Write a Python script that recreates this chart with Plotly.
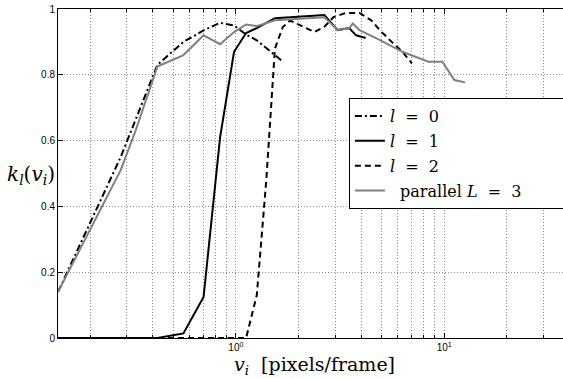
import math
import plotly.graph_objects as go

# ---- data ----
l0_x = [0.14, 0.28, 0.42, 0.56, 0.70, 0.84, 0.98, 1.12, 1.26, 1.40, 1.54, 1.68]
l0_y = [0.14, 0.55, 0.83, 0.90, 0.935, 0.958, 0.95, 0.922, 0.905, 0.88, 0.86, 0.84]

l1_x = [0.14, 0.42, 0.56, 0.70, 0.84, 0.98, 1.12, 1.26, 1.54, 1.96, 2.66, 3.08, 3.50, 3.78, 4.20]
l1_y = [0.0, 0.0, 0.014, 0.125, 0.61, 0.87, 0.927, 0.942, 0.972, 0.977, 0.982, 0.936, 0.942, 0.92, 0.912]

l2_x = [0.14, 1.12, 1.26, 1.40, 1.54, 1.68, 1.82, 2.10, 2.38, 2.66, 2.94, 3.36, 3.92, 4.48, 4.90, 5.60, 6.30, 7.00]
l2_y = [0.0, 0.0, 0.13, 0.48, 0.88, 0.945, 0.965, 0.945, 0.93, 0.946, 0.975, 0.988, 0.988, 0.965, 0.936, 0.90, 0.87, 0.835]

par_x = [0.14, 0.28, 0.33, 0.42, 0.56, 0.70, 0.84, 0.98, 1.12, 1.26, 1.54, 1.96, 2.24, 2.66,
         3.08, 3.50, 3.64, 3.92, 4.90, 6.30, 8.40, 9.80, 11.2, 12.6]
par_y = [0.14, 0.51, 0.63, 0.825, 0.86, 0.92, 0.893, 0.93, 0.953, 0.948, 0.966, 0.97, 0.972, 0.975,
         0.936, 0.941, 0.956, 0.936, 0.906, 0.87, 0.84, 0.84, 0.784, 0.777]

series_names = ["<i>l</i>&nbsp;&nbsp;=&nbsp;&nbsp;0",
                "<i>l</i>&nbsp;&nbsp;=&nbsp;&nbsp;1",
                "<i>l</i>&nbsp;&nbsp;=&nbsp;&nbsp;2",
                "&nbsp;&nbsp;parallel <i>L</i>&nbsp;&nbsp;=&nbsp;&nbsp;3" + "&nbsp;" * 12]

x_major = [1, 10]
x_major_text = ["10<sup>0</sup>", "10<sup>1</sup>"]
x_minor = [0.2, 0.3, 0.4, 0.5, 0.6, 0.7, 0.8, 0.9, 2, 3, 4, 5, 6, 7, 8, 9, 20, 30]
y_ticks = [0, 0.2, 0.4, 0.6, 0.8, 1]
y_text = ["0", "0.2", "0.4", "0.6", "0.8", "1"]

x_range = [0.14, 37.2]

styles = [dict(color="black", width=2, dash="7px,3px,2px,3px"),
          dict(color="black", width=2),
          dict(color="black", width=2, dash="6px,4px"),
          dict(color="#808080", width=2)]

fig = go.Figure()
for i, (xs, ys) in enumerate([(l0_x, l0_y), (l1_x, l1_y), (l2_x, l2_y), (par_x, par_y)]):
    fig.add_trace(go.Scatter(x=xs, y=ys, mode="lines", name=series_names[i],
                             legendgroup=f"g{i}", line=styles[i]))

tickfont = dict(family="Liberation Sans, Arial, sans-serif", size=10, color="black")
serif = "DejaVu Serif, serif"
grid = dict(showgrid=True, gridcolor="#8a8a8a", griddash="1px,2px", gridwidth=1)

fig.update_layout(
    width=563, height=378,
    margin=dict(l=58, r=0, t=9, b=40, autoexpand=False),
    paper_bgcolor="white", plot_bgcolor="white",
    showlegend=True,
    legend=dict(x=0.576, y=0.729, xanchor="left", yanchor="top",
                bgcolor="white", bordercolor="black", borderwidth=1,
                font=dict(family=serif, size=16, color="black"),
                tracegroupgap=1, itemwidth=30),
    xaxis=dict(type="log", range=[math.log10(x_range[0]), math.log10(x_range[1])],
               tickmode="array", tickvals=x_major, ticktext=x_major_text,
               ticks="inside", ticklen=5, tickcolor="black", tickfont=tickfont,
               showline=True, linecolor="black", linewidth=1, mirror="ticks",
               minor=dict(tickvals=x_minor, ticks="inside", ticklen=3, tickcolor="black", **grid),
               zeroline=False, automargin=False, **grid),
    yaxis=dict(range=[0, 1], tickmode="array", tickvals=y_ticks, ticktext=y_text,
               ticks="inside", ticklen=5, tickcolor="black", tickfont=tickfont,
               showline=True, linecolor="black", linewidth=1, mirror=False,
               zeroline=False, automargin=False, **grid),
    annotations=[
        dict(text="<i>k<sub>l</sub></i>(<i>v<sub>i</sub></i>)", xref="paper", yref="paper",
             x=-0.002, y=0.495, xanchor="right", yanchor="middle", showarrow=False,
             font=dict(family=serif, size=20, color="black")),
        dict(text="<i>v<sub>i</sub></i>&nbsp;&nbsp;[pixels/frame]", xref="paper", yref="paper",
             x=0.508, y=-0.038, xanchor="center", yanchor="top", showarrow=False,
             font=dict(family=serif, size=19, color="black")),
    ],
)

fig.write_html("out.html", config={"displayModeBar": False},
               post_script="document.body.style.margin='0';")
